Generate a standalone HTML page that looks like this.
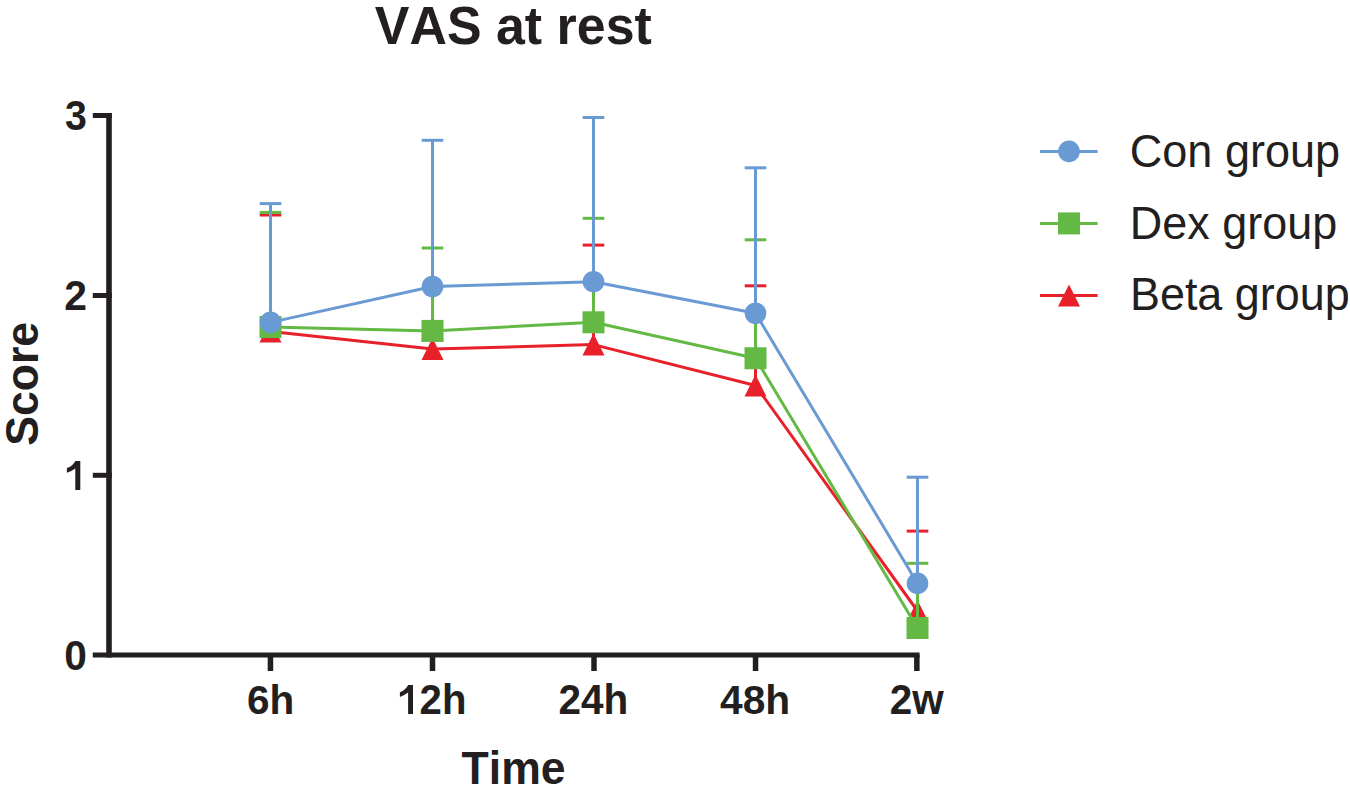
<!DOCTYPE html>
<html><head><meta charset="utf-8"><title>VAS at rest</title>
<style>
html,body{margin:0;padding:0;background:#fff;width:1350px;height:801px;overflow:hidden}
svg{display:block}
</style></head><body>
<svg width="1350" height="801" viewBox="0 0 1350 801">
<rect width="1350" height="801" fill="#fff"/>
<g stroke="#231f20" fill="none">
<line x1="109" y1="113" x2="109" y2="657.5" stroke-width="5.6"/>
<line x1="92.8" y1="115.5" x2="111.8" y2="115.5" stroke-width="5"/>
<line x1="92.8" y1="295.5" x2="111.8" y2="295.5" stroke-width="5"/>
<line x1="92.8" y1="475.3" x2="111.8" y2="475.3" stroke-width="5"/>
<line x1="92.8" y1="655" x2="919.6" y2="655" stroke-width="5.2"/>
<line x1="270.45" y1="655" x2="270.45" y2="671" stroke-width="5.5"/>
<line x1="432.50" y1="655" x2="432.50" y2="671" stroke-width="5.5"/>
<line x1="594.00" y1="655" x2="594.00" y2="671" stroke-width="5.5"/>
<line x1="755.55" y1="655" x2="755.55" y2="671" stroke-width="5.5"/>
<line x1="916.85" y1="655" x2="916.85" y2="671" stroke-width="5.5"/>
</g>
<polyline points="270.50,331.50 432.50,349.10 593.50,344.60 755.50,385.50 917.50,611.00" fill="none" stroke="#e8202a" stroke-width="3.0" stroke-linejoin="round"/>
<line x1="270.50" y1="331.50" x2="270.50" y2="215.00" stroke="#e8202a" stroke-width="3.0"/>
<line x1="259.70" y1="215.00" x2="281.30" y2="215.00" stroke="#e8202a" stroke-width="3.0"/>
<line x1="432.50" y1="349.10" x2="432.50" y2="340.00" stroke="#e8202a" stroke-width="3.0"/>
<line x1="421.70" y1="340.00" x2="443.30" y2="340.00" stroke="#e8202a" stroke-width="3.0"/>
<line x1="593.50" y1="344.60" x2="593.50" y2="245.10" stroke="#e8202a" stroke-width="3.0"/>
<line x1="582.70" y1="245.10" x2="604.30" y2="245.10" stroke="#e8202a" stroke-width="3.0"/>
<line x1="755.50" y1="385.50" x2="755.50" y2="285.80" stroke="#e8202a" stroke-width="3.0"/>
<line x1="744.70" y1="285.80" x2="766.30" y2="285.80" stroke="#e8202a" stroke-width="3.0"/>
<line x1="917.50" y1="611.00" x2="917.50" y2="531.10" stroke="#e8202a" stroke-width="3.0"/>
<line x1="906.70" y1="531.10" x2="928.30" y2="531.10" stroke="#e8202a" stroke-width="3.0"/>
<polygon points="270.50,320.50 281.50,342.50 259.50,342.50" fill="#e8202a"/>
<polygon points="432.50,338.10 443.50,360.10 421.50,360.10" fill="#e8202a"/>
<polygon points="593.50,333.60 604.50,355.60 582.50,355.60" fill="#e8202a"/>
<polygon points="755.50,374.50 766.50,396.50 744.50,396.50" fill="#e8202a"/>
<polygon points="917.50,600.00 928.50,622.00 906.50,622.00" fill="#e8202a"/>
<polyline points="270.50,327.00 432.50,330.90 593.50,322.30 755.50,358.25 917.50,628.00" fill="none" stroke="#64b945" stroke-width="3.0" stroke-linejoin="round"/>
<line x1="270.50" y1="327.00" x2="270.50" y2="212.40" stroke="#64b945" stroke-width="3.0"/>
<line x1="259.70" y1="212.40" x2="281.30" y2="212.40" stroke="#64b945" stroke-width="3.0"/>
<line x1="432.50" y1="330.90" x2="432.50" y2="248.00" stroke="#64b945" stroke-width="3.0"/>
<line x1="421.70" y1="248.00" x2="443.30" y2="248.00" stroke="#64b945" stroke-width="3.0"/>
<line x1="593.50" y1="322.30" x2="593.50" y2="218.30" stroke="#64b945" stroke-width="3.0"/>
<line x1="582.70" y1="218.30" x2="604.30" y2="218.30" stroke="#64b945" stroke-width="3.0"/>
<line x1="755.50" y1="358.25" x2="755.50" y2="239.80" stroke="#64b945" stroke-width="3.0"/>
<line x1="744.70" y1="239.80" x2="766.30" y2="239.80" stroke="#64b945" stroke-width="3.0"/>
<line x1="917.50" y1="628.00" x2="917.50" y2="563.30" stroke="#64b945" stroke-width="3.0"/>
<line x1="906.70" y1="563.30" x2="928.30" y2="563.30" stroke="#64b945" stroke-width="3.0"/>
<rect x="259.50" y="316.00" width="22.0" height="22.0" fill="#64b945"/>
<rect x="421.50" y="319.90" width="22.0" height="22.0" fill="#64b945"/>
<rect x="582.50" y="311.30" width="22.0" height="22.0" fill="#64b945"/>
<rect x="744.50" y="347.25" width="22.0" height="22.0" fill="#64b945"/>
<rect x="906.50" y="617.00" width="22.0" height="22.0" fill="#64b945"/>
<polyline points="270.50,322.40 432.50,286.50 593.50,281.70 755.50,313.25 917.50,583.40" fill="none" stroke="#6a9ad4" stroke-width="3.0" stroke-linejoin="round"/>
<line x1="270.50" y1="322.40" x2="270.50" y2="203.60" stroke="#6a9ad4" stroke-width="3.0"/>
<line x1="259.70" y1="203.60" x2="281.30" y2="203.60" stroke="#6a9ad4" stroke-width="3.0"/>
<line x1="432.50" y1="286.50" x2="432.50" y2="140.30" stroke="#6a9ad4" stroke-width="3.0"/>
<line x1="421.70" y1="140.30" x2="443.30" y2="140.30" stroke="#6a9ad4" stroke-width="3.0"/>
<line x1="593.50" y1="281.70" x2="593.50" y2="117.50" stroke="#6a9ad4" stroke-width="3.0"/>
<line x1="582.70" y1="117.50" x2="604.30" y2="117.50" stroke="#6a9ad4" stroke-width="3.0"/>
<line x1="755.50" y1="313.25" x2="755.50" y2="167.80" stroke="#6a9ad4" stroke-width="3.0"/>
<line x1="744.70" y1="167.80" x2="766.30" y2="167.80" stroke="#6a9ad4" stroke-width="3.0"/>
<line x1="917.50" y1="583.40" x2="917.50" y2="477.20" stroke="#6a9ad4" stroke-width="3.0"/>
<line x1="906.70" y1="477.20" x2="928.30" y2="477.20" stroke="#6a9ad4" stroke-width="3.0"/>
<circle cx="270.50" cy="322.40" r="10.8" fill="#6a9ad4"/>
<circle cx="432.50" cy="286.50" r="10.8" fill="#6a9ad4"/>
<circle cx="593.50" cy="281.70" r="10.8" fill="#6a9ad4"/>
<circle cx="755.50" cy="313.25" r="10.8" fill="#6a9ad4"/>
<circle cx="917.50" cy="583.40" r="10.8" fill="#6a9ad4"/>
<line x1="1040" y1="151.4" x2="1097.6" y2="151.4" stroke="#6a9ad4" stroke-width="3.0"/>
<circle cx="1069.00" cy="151.40" r="10.8" fill="#6a9ad4"/>
<line x1="1040" y1="223.4" x2="1097.6" y2="223.4" stroke="#64b945" stroke-width="3.0"/>
<rect x="1058.00" y="212.40" width="22.0" height="22.0" fill="#64b945"/>
<line x1="1040" y1="295.4" x2="1097.6" y2="295.4" stroke="#e8202a" stroke-width="3.0"/>
<polygon points="1069.00,284.40 1080.00,306.40 1058.00,306.40" fill="#e8202a"/>
<g fill="#231f20" style="font-kerning:none" font-family="'Liberation Sans', sans-serif">
<text transform="matrix(0.9527 0 0 0.9973 374.824 44.300)" font-weight="bold" font-size="54.5">VAS at rest</text>
<text transform="matrix(0.9349 0 0 0.9950 65.065 130.303)" font-weight="bold" font-size="42">3</text>
<text transform="matrix(0.9728 0 0 0.9915 64.141 309.900)" font-weight="bold" font-size="42">2</text>
<text transform="matrix(0.9700 0 0 0.9983 64.203 669.501)" font-weight="bold" font-size="42">0</text>
<text transform="matrix(0.9644 0 0 0.9815 247.053 713.909)" font-weight="bold" font-size="42">6h</text>
<text transform="matrix(0.9556 0 0 0.9915 419.567 714.000)" font-weight="bold" font-size="42">2h</text>
<text transform="matrix(0.9641 0 0 0.9915 558.454 714.000)" font-weight="bold" font-size="42">24h</text>
<text transform="matrix(0.9696 0 0 0.9815 720.073 713.709)" font-weight="bold" font-size="42">48h</text>
<text transform="matrix(0.9633 0 0 0.9915 889.755 714.000)" font-weight="bold" font-size="42">2w</text>
<text transform="matrix(0.9913 0 0 1.0258 461.504 783.900)" font-weight="bold" font-size="45">Time</text>
<text transform="matrix(1.0246 0 0 1.0592 1129.695 166.970)" font-weight="normal" font-size="44">Con group</text>
<text transform="matrix(1.0220 0 0 1.0512 1129.723 238.800)" font-weight="normal" font-size="44">Dex group</text>
<text transform="matrix(1.0214 0 0 1.0380 1129.925 310.300)" font-weight="normal" font-size="44">Beta group</text>
<text transform="matrix(0 -0.9914 1.0250 0 38.487 445.839)" font-weight="bold" font-size="45">Score</text>
<path d="M75.30 460.90 L80.30 460.90 L80.30 489.90 L75.30 489.90 L75.30 468.50 Q72.26 470.90 66.90 472.79 L66.90 468.09 Q72.93 465.83 75.30 460.90 Z" fill="#231f20"/>
<path d="M408.11 685.00 L413.00 685.00 L413.00 714.00 L408.11 714.00 L408.11 692.60 Q405.14 695.00 399.90 696.89 L399.90 692.19 Q405.79 689.93 408.11 685.00 Z" fill="#231f20"/>
</g>
</svg>
</body></html>
